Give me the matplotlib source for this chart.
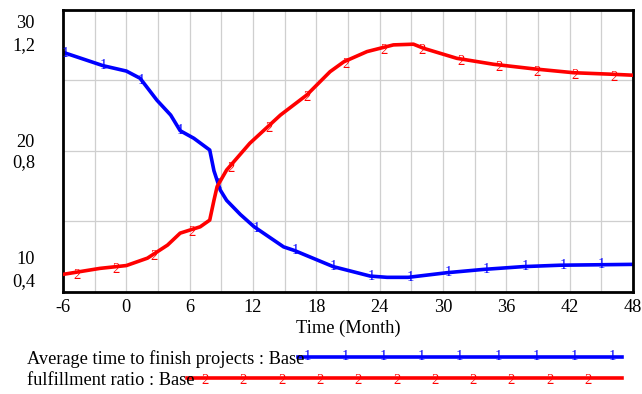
import numpy as np
import matplotlib.pyplot as plt
from matplotlib.lines import Line2D

plt.rcParams['font.family'] = 'Liberation Serif'
plt.rcParams['font.size'] = 13.2
plt.rcParams['axes.unicode_minus'] = False

# simulation output, Base run
time_avg = [-6, -2.2, 0, 1.3, 2.9, 4.2, 5.1, 6.4, 7.9, 8.3, 8.9, 9.5, 10.8,
            12.1, 14.9, 15.9, 19.6, 23.1, 24.7, 26.7, 30.4, 33.8, 37.6, 41.1, 48]
avg_time = [27.0, 26.05, 25.67, 25.16, 23.6, 22.55, 21.44, 20.9, 20.07, 18.6,
            17.23, 16.5, 15.5, 14.63, 13.2, 12.95, 11.8, 11.13, 11.04, 11.04,
            11.37, 11.6, 11.8, 11.9, 11.96]

time_ratio = [-6, -2.5, 0, 2.0, 3.9, 5.1, 7.0, 7.9, 8.3, 8.6, 9.5, 11.7, 14.6,
              17.1, 19.3, 20.6, 22.8, 25.3, 27.2, 28.2, 31.3, 34.8, 38.6, 42.4,
              45.8, 48]
ratio = [0.45, 0.467, 0.475, 0.496, 0.533, 0.567, 0.585, 0.604, 0.66, 0.699,
         0.746, 0.822, 0.902, 0.959, 1.025, 1.053, 1.082, 1.101, 1.103, 1.091,
         1.063, 1.046, 1.033, 1.022, 1.018, 1.015]

x_ticks = [-6, 0, 6, 12, 18, 24, 30, 36, 42, 48]
left_labels = ['30', '20', '10']
right_labels = ['1,2', '0,8', '0,4']

BLUE = '#0000ff'
RED = '#ff0000'

W, H = 642, 394
fig = plt.figure(figsize=(W / 100, H / 100), dpi=100)
ax = fig.add_axes([63 / W, 1 - 292 / H, 570 / W, 282 / H])
ax2 = ax.twinx()

ax.set_xlim(-6, 48)
ax.set_ylim(10, 30)
ax2.set_ylim(0.4, 1.2)

ax.set_xticks(x_ticks)
ax.set_xticks(np.arange(-3, 48, 6), minor=True)
ax.set_yticks([10, 15, 20, 25, 30])
ax.set_yticklabels([])
ax.grid(which='both', color='#cfcfcf', linewidth=0.9)
ax.tick_params(which='both', length=0)
ax.tick_params(axis='x', pad=5)
ax2.set_yticks([])
for sp in ax.spines.values():
    sp.set_linewidth(2.0)
    sp.set_color('black')
for sp in ax2.spines.values():
    sp.set_visible(False)
ax.set_axisbelow(True)

ax.plot(time_avg, avg_time, color=BLUE, lw=2.6, solid_joinstyle='round')
ax2.plot(time_ratio, ratio, color=RED, lw=2.6, solid_joinstyle='round')

# series number markers along each curve
for t in -5.8 + 3.63 * np.arange(15):
    ax.text(t, np.interp(t, time_avg, avg_time), '1', color=BLUE,
            fontsize=10.5, ha='center', va='center')
for t in -4.64 + 3.63 * np.arange(15):
    ax2.annotate('2', xy=(t, np.interp(t, time_ratio, ratio)),
                 xytext=(0, -3), textcoords='offset pixels',
                 color=RED, fontsize=10.5, ha='center', va='center')

# stacked left-hand scale labels (left series over right series)
y_tr = ax.get_yaxis_transform()
for val, lab, dy in zip([30, 20, 10], left_labels, [-18, 4, 28]):
    ax.annotate(lab, xy=(0, val), xycoords=y_tr, xytext=(-28, dy),
                textcoords='offset pixels', ha='right', va='baseline')
y_tr2 = ax2.get_yaxis_transform()
for val, lab, dy in zip([1.2, 0.8, 0.4], right_labels, [-40, -16, 6]):
    ax2.annotate(lab, xy=(0, val), xycoords=y_tr2, xytext=(-28, dy),
                 textcoords='offset pixels', ha='right', va='baseline')

fig.text(348 / W, 1 - 333 / H, 'Time (Month)', ha='center', va='baseline')

# legend rows
def fx(px):
    return px / W

def fy(py):
    return 1 - py / H

fig.text(fx(27), fy(364.5), 'Average time to finish projects : Base',
         ha='left', va='baseline')
fig.add_artist(Line2D([fx(298), fx(622)], [fy(357), fy(357)], color=BLUE,
                      lw=2.6, transform=fig.transFigure))
for px in 307 + 38.2 * np.arange(9):
    fig.text(fx(px), fy(357), '1', color=BLUE, fontsize=10.5, ha='center',
             va='center')

fig.text(fx(27), fy(385), 'fulfillment ratio : Base', ha='left', va='baseline')
fig.add_artist(Line2D([fx(187), fx(622)], [fy(378), fy(378)], color=RED,
                      lw=2.6, transform=fig.transFigure))
for px in 205 + 38.3 * np.arange(11):
    fig.text(fx(px), fy(381), '2', color=RED, fontsize=10.5, ha='center',
             va='center')

fig.savefig('out.png', dpi=100)
